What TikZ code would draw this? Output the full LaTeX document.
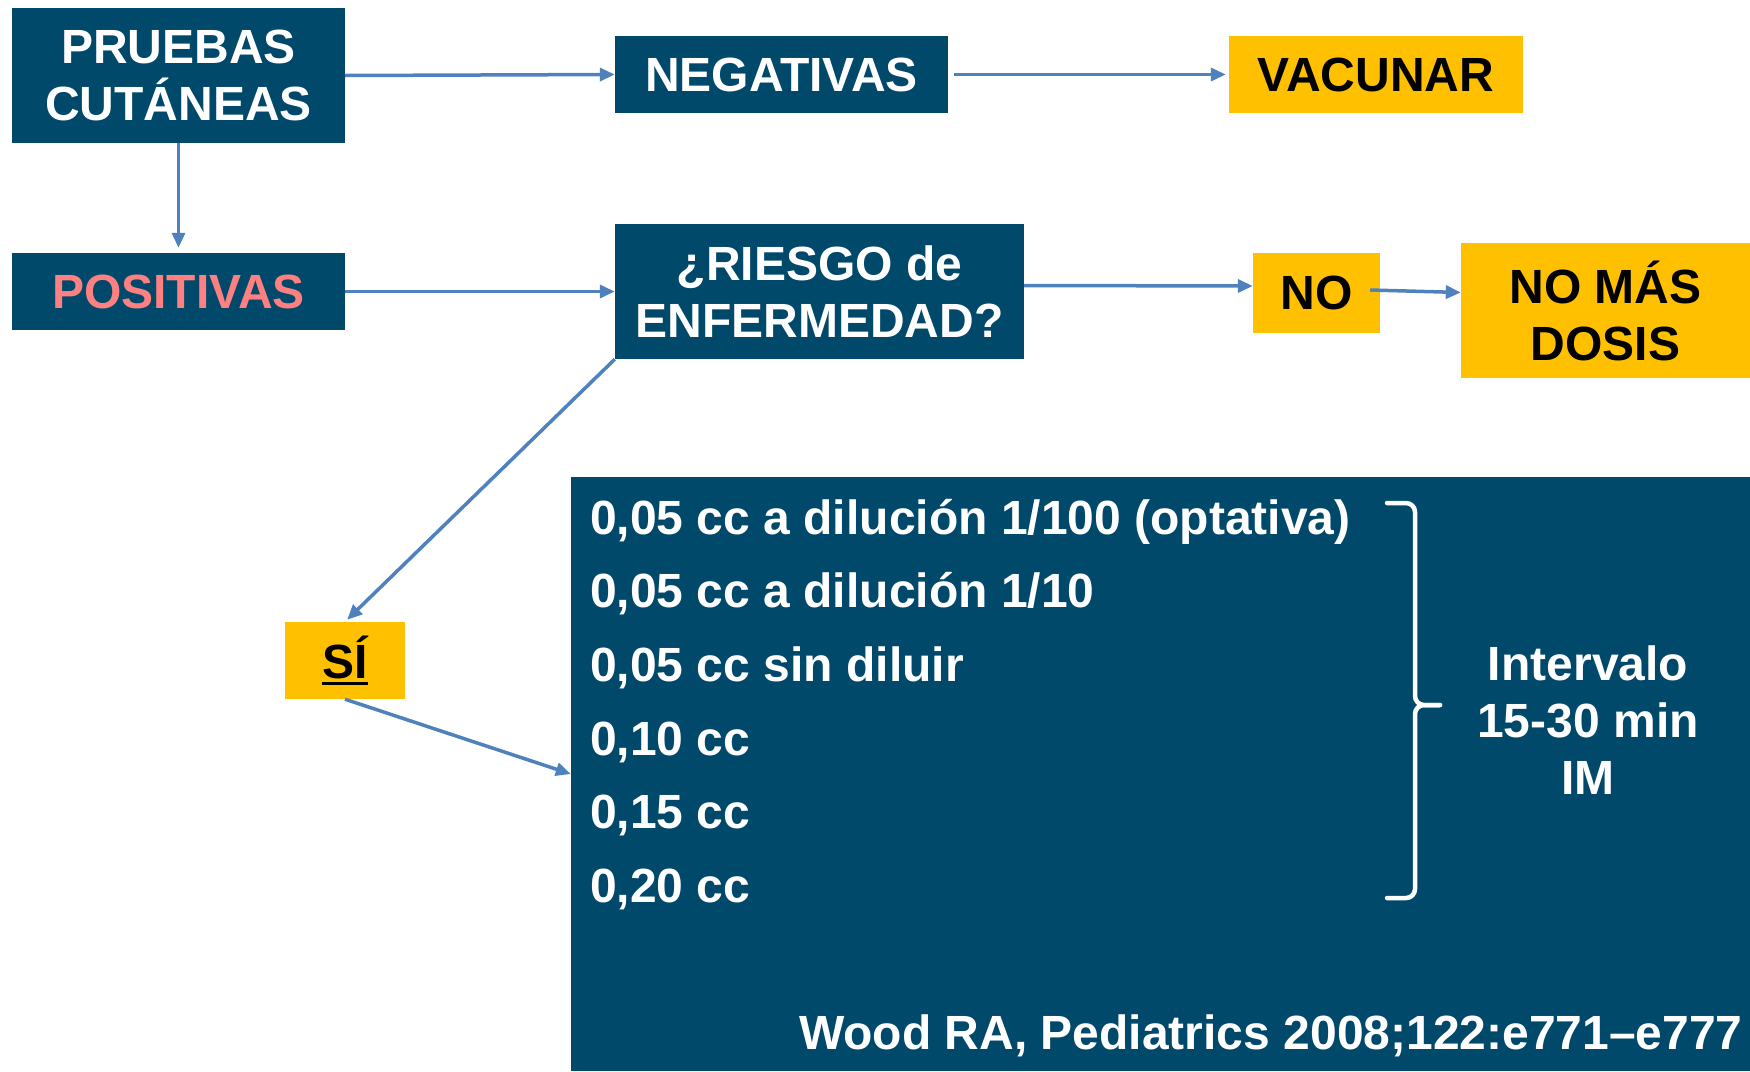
\documentclass[tikz,border=0pt]{standalone}
\usepackage{fontspec}
\setmainfont{Liberation Sans}
\usetikzlibrary{arrows.meta}
\definecolor{azul}{RGB}{0,73,107}
\definecolor{amarillo}{RGB}{255,192,0}
\definecolor{rosa}{RGB}{255,128,128}
\definecolor{flechaazul}{RGB}{79,129,189}
\newcommand{\letra}{\fontsize{48}{57}\selectfont\bfseries}
\newcommand{\subrayar}[1]{\setbox0=\hbox{#1}\dimen0=\wd0 \box0\hskip-\dimen0\rule[-7pt]{\dimen0}{3.5pt}}
\tikzstyle{caja}=[rectangle, inner sep=0, align=center, font=\letra]
\tikzstyle{oscura}=[caja, fill=azul, text=white]
\tikzstyle{clara}=[caja, fill=amarillo, text=black]
\tikzstyle{flecha}=[flechaazul, line width=3.5pt, -{Triangle[length=15pt,width=13pt]}]
\tikzstyle{texto}=[inner sep=0, text=white, font=\letra]

\begin{document}
\begin{tikzpicture}[x=1pt, y=-1pt]
\useasboundingbox (0,0) rectangle (1750,1071);
% Boxes
    \node[oscura, minimum width=333, minimum height=135] (prueba) at (178.5,75.5) {PRUEBAS\\CUT\'ANEAS};
    \node[oscura, minimum width=333, minimum height=77] (negat) at (781.5,74.5) {NEGATIVAS};
    \node[clara, minimum width=294, minimum height=77] (vacunar) at (1376,74.5) {VACUNAR};
    \node[oscura, text=rosa, minimum width=333, minimum height=77] (posit) at (178.5,291.5) {POSITIVAS};
    \node[oscura, minimum width=409, minimum height=135] (riesgo) at (819.5,291.5) {¿RIESGO de\\ENFERMEDAD?};
    \node[clara, minimum width=127, minimum height=80] (no) at (1316.5,293) {NO};
    \node[clara, minimum width=289, minimum height=135] (nomas) at (1605.5,310.5) {NO M\'AS\\DOSIS};
    \node[clara, minimum width=120, minimum height=77] (si) at (345,660.5) {\subrayar{S\'I}};
    \node[oscura, minimum width=1179, minimum height=594] (dosis) at (1160.5,774) {};
% Doses
    \node[texto, anchor=base west] (d1) at (590,534) {0,05 cc a diluci\'on 1/100 (optativa)};
    \node[texto, anchor=base west] (d2) at (590,607.5) {0,05 cc a diluci\'on 1/10};
    \node[texto, anchor=base west] (d3) at (590,681) {0,05 cc sin diluir};
    \node[texto, anchor=base west] (d4) at (590,755) {0,10 cc};
    \node[texto, anchor=base west] (d5) at (590,828.5) {0,15 cc};
    \node[texto, anchor=base west] (d6) at (590,902.5) {0,20 cc};
    \node[texto, align=center] (interv) at (1588,720) {Intervalo\\15-30 min\\IM};
    \node[texto, anchor=base east] (cita) at (1743,1049) {Wood RA, Pediatrics 2008;122:e771--e777};
% Brace
    \draw[white, line width=4.5pt, line cap=round, rounded corners=9pt] (1387,503) -| (1415,705) -- (1440,705);
    \draw[white, line width=4.5pt, line cap=round, rounded corners=9pt] (1440,705) -- (1415,705) |- (1387,898);
% Arrows
    \draw[flecha] (prueba.east) -- (negat.west);
    \draw[flecha, shorten <=6pt, shorten >=3pt] (negat.east) -- (vacunar.west);
    \draw[flecha, shorten >=5pt] (prueba.south) -- (posit.north);
    \draw[flecha] (posit.east) -- (riesgo.west);
    \draw[flecha] ([yshift=6pt]riesgo.east) -- ([yshift=7pt]no.west);
    \draw[flecha] ([xshift=-10pt, yshift=3pt]no.east) -- ([yshift=18pt]nomas.west);
    \draw[flecha, shorten >=3pt] (riesgo.south west) -- (si.north);
    \draw[flecha] (si.south) -- (dosis.west);
\end{tikzpicture}
\end{document}
